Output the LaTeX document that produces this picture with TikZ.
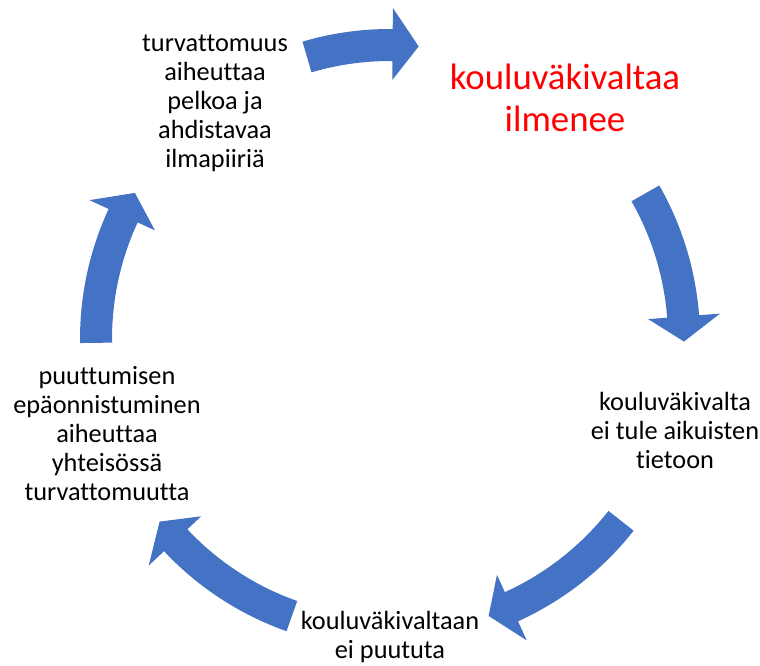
\documentclass[tikz,border=0pt]{standalone}
\usepackage{fontspec}
\setmainfont{Carlito}[Ligatures={NoCommon}]
\usetikzlibrary{calc}
\definecolor{arrowblue}{HTML}{4472C4}
\definecolor{redtext}{HTML}{FF0000}
\tikzset{
  lbl/.style={font=\fontsize{26.3}{29}\selectfont, anchor=base, inner sep=0pt, text=black},
  redlbl/.style={font=\fontsize{36.8}{41.5}\selectfont, anchor=base, inner sep=0pt, text=redtext},
  arrowfill/.style={fill=arrowblue, draw=none}
}
\newcommand\cyclearrow[3]{%
  \fill[arrowfill] ($(C)+(#1:310pt)$) arc[start angle=#1, end angle=#2, radius=310pt]
    -- ($(C)+(#2:331pt)$) -- ($(C)+(#3:294pt)$) -- ($(C)+(#2:259pt)$)
    -- ($(C)+(#2:278pt)$) arc[start angle=#2, end angle=#1, radius=278pt] -- cycle;}
\newcommand\stack[1]{\begin{tabular}[t]{@{}c@{}}#1\end{tabular}}
\begin{document}
\begin{tikzpicture}[x=1pt,y=1pt]
\useasboundingbox (0,0) rectangle (760,666);
\coordinate (C) at (390,327);
% arrows
\cyclearrow{106.4}{89.5}{84.4}
\cyclearrow{29.7}{4.4}{-0.5}
\cyclearrow{-38.2}{-65.6}{-70.4}
\cyclearrow{250.5}{223.2}{218.4}
\cyclearrow{180.75}{155.2}{150.2}
% texts
\node[redlbl] (n1) at (565,576) {\stack{kouluväkivaltaa\\ilmenee}};
\node[lbl] (n2) at (675,255) {\stack{kouluväkivalta\\ei tule aikuisten\\tietoon}};
\node[lbl] (n3) at (390,36) {\stack{kouluväkivaltaan\\ei puututa}};
\node[lbl] (n4) at (107,281) {\stack{puuttumisen\\epäonnistuminen\\aiheuttaa\\yhteisössä\\turvattomuutta}};
\node[lbl] (n5) at (215,614.3) {\stack{turvattomuus\\aiheuttaa\\pelkoa ja\\ahdistavaa\\ilmapiiriä}};
\end{tikzpicture}
\end{document}
